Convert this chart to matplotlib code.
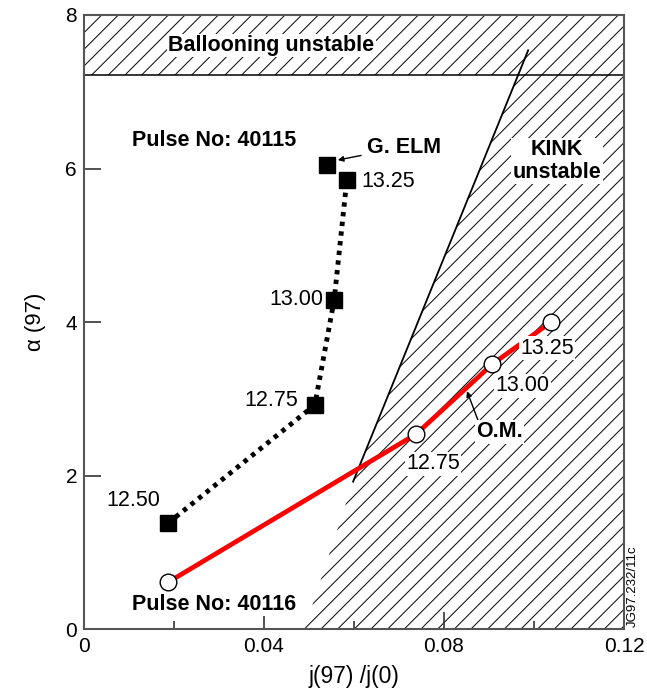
import matplotlib
matplotlib.use("Agg")
import matplotlib.pyplot as plt
from matplotlib.ticker import MultipleLocator

plt.rcParams['font.family'] = ['Liberation Sans', 'DejaVu Sans']
plt.rcParams['hatch.linewidth'] = 0.7

# Pulse 40115 (squares, dotted)
sq_x = [0.0187, 0.0513, 0.0556, 0.0584]
sq_y = [1.38, 2.92, 4.29, 5.85]
sq_labels = ["12.50", "12.75", "13.00", "13.25"]
elm_x = [0.0540]
elm_y = [6.05]

# Pulse 40116 (circles, red)
ci_x = [0.0187, 0.0738, 0.0907, 0.1038]
ci_y = [0.61, 2.54, 3.45, 4.00]
ci_labels = ["", "12.75", "13.00", "13.25"]

# stability boundaries
balloon_y = 7.22
kink_line_x = [0.0598, 0.0987]
kink_line_y = [1.92, 7.54]
kink_region_x = [0.049, 0.0598, 0.0965, 0.12, 0.12]
kink_region_y = [0.0, 1.92, 7.22, 7.22, 0.0]

xticks = [0, 0.04, 0.08, 0.12]
xtick_labels = ["0", "0.04", "0.08", "0.12"]
yticks = [0, 2, 4, 6, 8]

fig = plt.figure(figsize=(6.47, 6.91), dpi=100)
ax = fig.add_axes([0.1298, 0.0897, 0.8347, 0.8886])
ax.set_xlim(0, 0.12)
ax.set_ylim(0, 8)

# hatched regions
ax.fill_between([0, 0.12], [balloon_y, balloon_y], [8, 8], facecolor='none',
                edgecolor='black', hatch='//', linewidth=0, zorder=1)
ax.fill(kink_region_x, kink_region_y, facecolor='none', edgecolor='black',
        hatch='//', linewidth=0, zorder=1)
ax.axhline(balloon_y, color='black', lw=1.1, zorder=2)
ax.plot(kink_line_x, kink_line_y, color='black', lw=1.3, zorder=2)

# data
ax.plot(sq_x, sq_y, color='black', lw=3.5, linestyle=(0, (0.9, 1.1)), zorder=3)
ax.plot(sq_x + elm_x, sq_y + elm_y, linestyle='none', marker='s', ms=12,
        color='black', zorder=4)
ax.plot(ci_x, ci_y, color='#ff0000', lw=3.4, zorder=3)
ax.plot(ci_x, ci_y, linestyle='none', marker='o', ms=12, mfc='white',
        mec='black', mew=1.0, zorder=4)

wb = dict(facecolor='white', edgecolor='none', pad=1.0)
fs = 15.5
bfs = 15.5
# square labels
ax.text(0.0169, 1.67, sq_labels[0], ha='right', va='center', fontsize=fs)
ax.text(0.0476, 2.98, sq_labels[1], ha='right', va='center', fontsize=fs)
ax.text(0.0531, 4.29, sq_labels[2], ha='right', va='center', fontsize=fs)
ax.text(0.0616, 5.83, sq_labels[3], ha='left', va='center', fontsize=fs)
# circle labels
ax.text(0.0776, 2.15, ci_labels[1], ha='center', va='center', fontsize=fs, bbox=wb, zorder=5)
ax.text(0.0914, 3.17, ci_labels[2], ha='left', va='center', fontsize=fs, bbox=wb, zorder=5)
ax.text(0.0970, 3.66, ci_labels[3], ha='left', va='center', fontsize=fs, bbox=wb, zorder=5)

# region and pulse labels
ax.text(0.0416, 7.60, "Ballooning unstable", ha='center', va='center',
        fontsize=bfs, fontweight='bold', bbox=wb, zorder=5)
ax.text(0.1051, 6.10, "KINK\nunstable", ha='center', va='center',
        fontsize=bfs, fontweight='bold', bbox=wb, zorder=5, linespacing=1.1)
ax.text(0.0289, 6.36, "Pulse No: 40115", ha='center', va='center',
        fontsize=bfs, fontweight='bold')
ax.text(0.0289, 0.32, "Pulse No: 40116", ha='center', va='center',
        fontsize=bfs, fontweight='bold', bbox=wb, zorder=5)

ax.annotate("G. ELM", xy=(0.0564, 6.11), xytext=(0.0628, 6.28),
            ha='left', va='center', fontsize=bfs, fontweight='bold',
            arrowprops=dict(arrowstyle='-|>', color='black', lw=1,
                            mutation_scale=8, shrinkA=2, shrinkB=0))
ax.annotate("O.M.", xy=(0.0851, 3.10), xytext=(0.0924, 2.57),
            ha='center', va='center', fontsize=bfs, fontweight='bold',
            bbox=wb, zorder=5,
            arrowprops=dict(arrowstyle='-|>', color='black', lw=1,
                            mutation_scale=8, shrinkA=0, shrinkB=0,
                            relpos=(0.05, 0.95)))

ax.text(1.006, 0.003, "JG97.232/11c", rotation=90, ha='left', va='bottom',
        fontsize=9.5, transform=ax.transAxes)

# axes styling
ax.set_xticks(xticks)
ax.set_xticklabels(xtick_labels)
ax.xaxis.set_minor_locator(MultipleLocator(0.02))
ax.set_yticks(yticks)
ax.tick_params(axis='both', which='major', direction='in', length=12,
               width=1.2, labelsize=15, colors='#333333', labelcolor='black')
ax.tick_params(axis='x', which='minor', direction='in', length=6, width=1.2,
               colors='#333333')
ax.tick_params(axis='x', pad=6)
ax.tick_params(axis='y', pad=5)
for s in ax.spines.values():
    s.set_color('#555555')
    s.set_linewidth(1.5)

ax.set_xlabel("j(97) /j(0)", fontsize=16.5, labelpad=6)
ax.set_ylabel("α (97)", fontsize=16, labelpad=14)

fig.savefig("out.png", dpi=100)
